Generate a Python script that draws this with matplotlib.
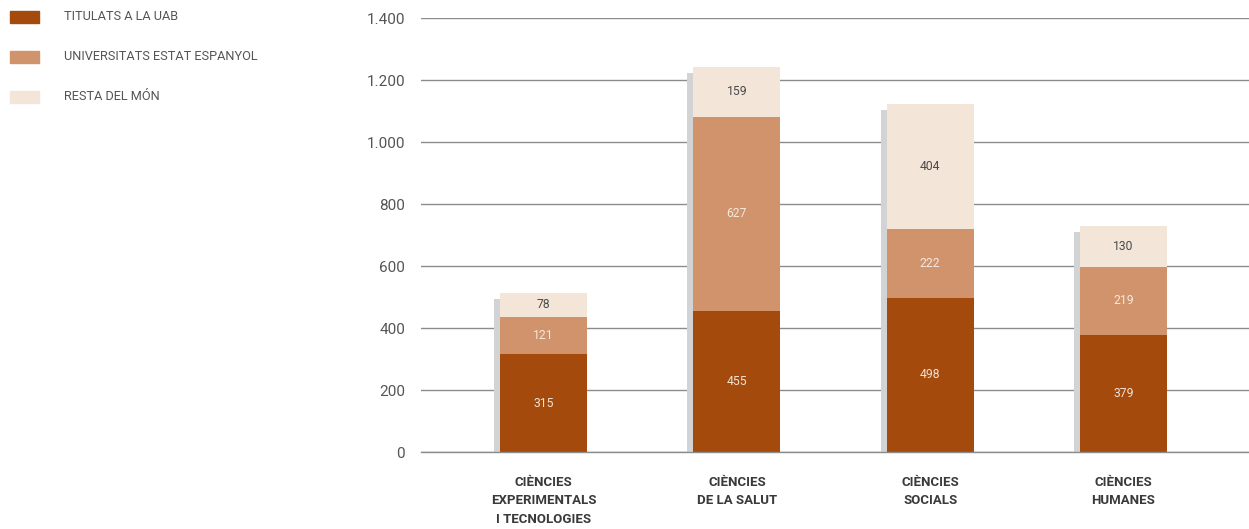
import matplotlib
matplotlib.use("Agg")
import matplotlib.pyplot as plt
import matplotlib.transforms as mtransforms
from matplotlib.ticker import FuncFormatter
import numpy as np

plt.rcParams['font.family'] = ['Roboto', 'DejaVu Sans']

categories = ["CIÈNCIES\nEXPERIMENTALS\nI TECNOLOGIES", "CIÈNCIES\nDE LA SALUT",
              "CIÈNCIES\nSOCIALS", "CIÈNCIES\nHUMANES"]
series_names = ["TITULATS A LA UAB", "UNIVERSITATS ESTAT ESPANYOL", "RESTA DEL MÓN"]
uab = [315, 455, 498, 379]
estat = [121, 627, 222, 219]
mon = [78, 159, 404, 130]
yticks = [0, 200, 400, 600, 800, 1000, 1200, 1400]

colors = ["#a34a0c", "#d0936c", "#f3e5d8"]
label_colors = ["#f3e2d4", "#f5e8dc", "#4a4a4a"]
shadow_color = "#d1d3d4"

fig = plt.figure(figsize=(12.49, 5.29), dpi=100)
ax = fig.add_axes([421/1249, 1-452/529, 1-421/1249, (452-18)/529])

x = np.arange(len(categories))
width = 0.45
series = [uab, estat, mon]
totals = np.sum(series, axis=0)

# drop shadow
shadow_tr = ax.transData + mtransforms.ScaledTranslation(-6/100, -6/100, fig.dpi_scale_trans)
ax.bar(x, totals, width, color=shadow_color, transform=shadow_tr, zorder=2, linewidth=0)

bottom = np.zeros(len(categories))
for vals, col, lc in zip(series, colors, label_colors):
    ax.bar(x, vals, width, bottom=bottom, color=col, zorder=3, linewidth=0)
    for xi, b, v in zip(x, bottom, vals):
        ax.text(xi, b + v/2, str(v), ha='center', va='center', fontsize=8.7,
                color=lc, zorder=4)
    bottom = bottom + np.array(vals)

ax.set_xlim(-0.634, 3.649)
ax.set_ylim(0, 1400)
ax.set_yticks(yticks)
ax.yaxis.set_major_formatter(FuncFormatter(lambda v, p: f"{int(v):,}".replace(",", ".")))
ax.yaxis.grid(True, color="#8c8c8c", linewidth=1.0, zorder=1)
ax.set_axisbelow(True)
ax.axhline(0, color="#8c8c8c", linewidth=1.0, zorder=5, clip_on=False)
for s in ax.spines.values():
    s.set_visible(False)
ax.tick_params(axis='y', length=0, pad=11.5, labelsize=11, labelcolor="#555555")
ax.set_xticks(x)
ax.set_xticklabels(categories, fontsize=9.5, fontweight='bold', color="#3a3a3a",
                   linespacing=1.55, va='top')
ax.tick_params(axis='x', length=0, pad=17)

# legend
for i, (name, col) in enumerate(zip(series_names, colors)):
    yc = 1 - (16.5 + 40*i)/529
    fig.patches.append(plt.Rectangle((10/1249, yc - 6/529), 29/1249, 12/529,
                                     transform=fig.transFigure, color=col, figure=fig))
    fig.text(64/1249, yc, name, fontsize=9.2, color="#555555", va='center', ha='left')

fig.savefig("out.png", dpi=100)
